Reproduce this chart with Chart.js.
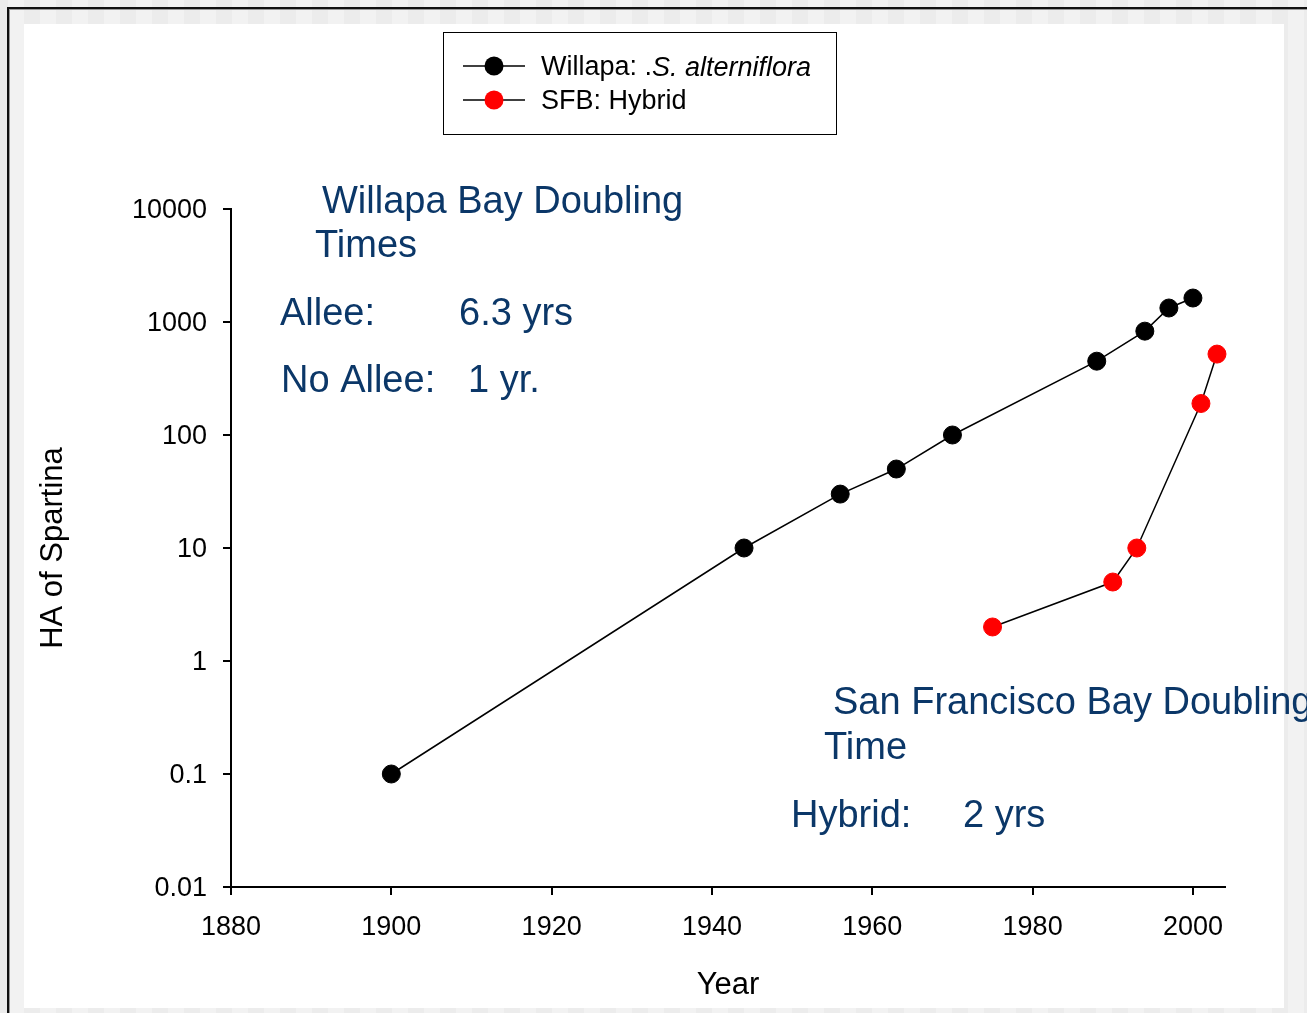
<!DOCTYPE html>
<html>
<head>
<meta charset="utf-8">
<script src="https://cdn.jsdelivr.net/npm/chart.js@4.4.1/dist/chart.umd.min.js"></script>
<style>
html, body { margin: 0; padding: 0; }
body {
    width: 1307px; height: 1013px; overflow: hidden; position: relative;
    background: repeating-linear-gradient(90deg, #f2f2f2 0 16px, #ececec 16px 32px);
    background-position: 8px 0;
}
#frame { position: absolute; left: 7px; top: 7px; right: -20px; bottom: -20px;
    border-left: 2px solid #111; border-top: 2px solid #111; box-shadow: inset 1px 1px 0 #999; }
#panel { position: absolute; left: 24px; top: 24px; width: 1260px; height: 984px; background: #fff; }
canvas { position: absolute; left: 0; top: 0; }
</style>
</head>
<body>
<div id="frame"></div>
<div id="panel"></div>
<canvas id="chart" width="1307" height="1013"></canvas>
<script>
// data
const willapaYears = [1900, 1944, 1956, 1963, 1970, 1988, 1994, 1997, 2000];
const willapaHa = [0.1, 10, 30, 50, 100, 450, 830, 1330, 1630];
const sfbYears = [1975, 1990, 1993, 2001, 2003];
const sfbHa = [2, 5, 10, 190, 520];
const xTicks = [1880, 1900, 1920, 1940, 1960, 1980, 2000];
const yTicks = [0.01, 0.1, 1, 10, 100, 1000, 10000];

const FONT = "'Liberation Sans', Arial, sans-serif";
const NOTE_COLOR = "#0b3768";

const toPoints = (xs, ys) => xs.map((x, i) => ({ x: x, y: ys[i] }));

// legend text, with the italic species name
const legendParts = [
    [{ t: "Willapa: .", italic: false }, { t: "S. alterniflora", italic: true }],
    [{ t: "SFB: Hybrid", italic: false }],
];

const notes = [
    { text: "Willapa Bay Doubling", x: 322, y: 213 },
    { text: "Times", x: 315, y: 257 },
    { text: "Allee:", x: 280, y: 325 },
    { text: "6.3 yrs", x: 459, y: 325 },
    { text: "No Allee:", x: 281, y: 392 },
    { text: "1 yr.", x: 468, y: 392 },
    { text: "San Francisco Bay Doubling", x: 833, y: 714 },
    { text: "Time", x: 824, y: 759 },
    { text: "Hybrid:", x: 791, y: 827 },
    { text: "2 yrs", x: 963, y: 827 },
];

const extrasPlugin = {
    id: "extras",
    afterDraw(chart) {
        const ctx = chart.ctx;
        ctx.save();

        // text notes
        ctx.font = "38px " + FONT;
        ctx.fillStyle = NOTE_COLOR;
        ctx.textBaseline = "alphabetic";
        ctx.textAlign = "left";
        for (let i = 0; i < notes.length; i++) {
            ctx.fillText(notes[i].text, notes[i].x, notes[i].y);
        }

        // legend box
        ctx.strokeStyle = "#000";
        ctx.lineWidth = 1;
        ctx.strokeRect(443.5, 32.5, 393, 102);

        const rows = [66, 100];
        chart.data.datasets.forEach((ds, i) => {
            const y = rows[i];
            ctx.strokeStyle = ds.borderColor;
            ctx.lineWidth = 1.5;
            ctx.beginPath();
            ctx.moveTo(463, y);
            ctx.lineTo(525, y);
            ctx.stroke();
            ctx.beginPath();
            ctx.arc(494, y, 9.5, 0, Math.PI * 2);
            ctx.fillStyle = ds.pointBackgroundColor;
            ctx.fill();

            let x = 541;
            ctx.fillStyle = "#000";
            ctx.textBaseline = "middle";
            legendParts[i].forEach(part => {
                ctx.font = (part.italic ? "italic " : "") + "27px " + FONT;
                ctx.fillText(part.t, x, y + 2);
                x += ctx.measureText(part.t).width;
            });
        });

        ctx.restore();
    }
};

new Chart(document.getElementById("chart"), {
    type: "scatter",
    data: {
        datasets: [
            {
                label: "Willapa: .S. alterniflora",
                data: toPoints(willapaYears, willapaHa),
                showLine: true,
                clip: false,
                borderColor: "#000",
                borderWidth: 1.5,
                pointBackgroundColor: "#000",
                pointBorderColor: "#000",
                pointRadius: 9,
                pointBorderWidth: 1,
            },
            {
                label: "SFB: Hybrid",
                data: toPoints(sfbYears, sfbHa),
                showLine: true,
                clip: false,
                borderColor: "#000",
                borderWidth: 1.5,
                pointBackgroundColor: "#ff0000",
                pointBorderColor: "#ff0000",
                pointRadius: 9,
                pointBorderWidth: 1,
            },
        ],
    },
    options: {
        responsive: false,
        animation: false,
        layout: { padding: { top: 209, right: 82, left: 0, bottom: 0 } },
        plugins: { legend: { display: false }, tooltip: { enabled: false } },
        scales: {
            x: {
                type: "linear",
                min: 1880,
                max: 2004,
                afterBuildTicks: scale => { scale.ticks = xTicks.map(v => ({ value: v })); },
                afterFit: scale => { scale.height = 126; },
                border: { display: true, color: "#000", width: 2 },
                grid: { drawOnChartArea: false, drawTicks: true, tickLength: 8, color: "#000", lineWidth: 2 },
                ticks: {
                    autoSkip: false,
                    maxRotation: 0,
                    padding: 16,
                    color: "#000",
                    font: { family: FONT, size: 27 },
                    callback: v => String(v),
                },
                title: {
                    display: true,
                    text: "Year",
                    color: "#000",
                    font: { family: FONT, size: 31 },
                    padding: { top: 0, bottom: 9 },
                },
            },
            y: {
                type: "logarithmic",
                min: 0.01,
                max: 10000,
                afterBuildTicks: scale => { scale.ticks = yTicks.map(v => ({ value: v })); },
                afterFit: scale => { scale.width = 231; },
                border: { display: true, color: "#000", width: 2 },
                grid: { drawOnChartArea: false, drawTicks: true, tickLength: 8, color: "#000", lineWidth: 2 },
                ticks: {
                    autoSkip: false,
                    padding: 16,
                    labelOffset: 2,
                    color: "#000",
                    font: { family: FONT, size: 27 },
                    callback: v => String(v),
                },
                title: {
                    display: true,
                    text: "HA of Spartina",
                    color: "#000",
                    font: { family: FONT, size: 31 },
                    padding: { top: 35, bottom: 0 },
                },
            },
        },
    },
    plugins: [extrasPlugin],
});
</script>
</body>
</html>
